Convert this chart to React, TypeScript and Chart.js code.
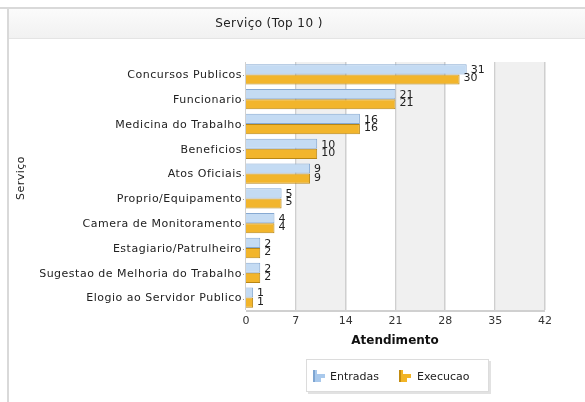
import React, { useEffect, useRef } from "react";
import { Chart, registerables } from "chart.js";

Chart.register(...registerables);

const categories = [
  "Concursos Publicos",
  "Funcionario",
  "Medicina do Trabalho",
  "Beneficios",
  "Atos Oficiais",
  "Proprio/Equipamento",
  "Camera de Monitoramento",
  "Estagiario/Patrulheiro",
  "Sugestao de Melhoria do Trabalho",
  "Elogio ao Servidor Publico",
];
const entradas = [31, 21, 16, 10, 9, 5, 4, 2, 2, 1];
const execucao = [30, 21, 16, 10, 9, 5, 4, 2, 2, 1];
const seriesNames = ["Entradas", "Execucao"];
const xTicks = [0, 7, 14, 21, 28, 35, 42];
const chartTitle = "Serviço (Top 10 )";
const yTitle = "Serviço";
const xTitle = "Atendimento";

const FONT = "'DejaVu Sans', sans-serif";

function drawIcon(ctx: CanvasRenderingContext2D, x: number, y: number, fill: string, stroke: string) {
  const rows = [
    [0, 4],
    [4, 12],
    [8, 8],
  ];
  ctx.save();
  for (const [dy, w] of rows) {
    ctx.fillStyle = fill;
    ctx.fillRect(x, y + dy, w, 4);
  }
  ctx.fillStyle = stroke;
  ctx.fillRect(x, y, 2, 12);
  ctx.restore();
}

function setSpacing(ctx: any, v: string) {
  try {
    ctx.letterSpacing = v;
  } catch (e) {}
}

const decorPlugin = {
  id: "decor",
  beforeDraw(chart: any) {
    const { ctx, chartArea, scales } = chart;
    const x = scales.x;
    const y = scales.y;
    ctx.save();
    ctx.fillStyle = "#ffffff";
    ctx.fillRect(0, 0, chart.width, chart.height);
    // frame
    ctx.fillStyle = "#d9d9d9";
    ctx.fillRect(0, 7, chart.width, 2);
    ctx.fillRect(7, 7, 2, chart.height - 7);
    // title band
    const g = ctx.createLinearGradient(0, 9, 0, 38);
    g.addColorStop(0, "#fbfbfb");
    g.addColorStop(1, "#f1f1f1");
    ctx.fillStyle = g;
    ctx.fillRect(9, 9, chart.width - 9, 29);
    ctx.fillStyle = "#e4e4e4";
    ctx.fillRect(9, 38, chart.width - 9, 1);
    ctx.fillStyle = "#222";
    ctx.font = `12px ${FONT}`;
    setSpacing(ctx, "0.4px");
    ctx.textAlign = "center";
    ctx.textBaseline = "middle";
    ctx.fillText(chartTitle, 269, 24);
    setSpacing(ctx, "0px");
    // alternating bands
    for (let i = 0; i < xTicks.length - 1; i++) {
      if (i % 2 === 1) {
        const a = x.getPixelForValue(xTicks[i]);
        const b = x.getPixelForValue(xTicks[i + 1]);
        ctx.fillStyle = "#f0f0f0";
        ctx.fillRect(a, chartArea.top, b - a, chartArea.bottom - chartArea.top);
      }
    }
    // grid lines (double)
    for (let i = 1; i < xTicks.length; i++) {
      const p = Math.round(x.getPixelForValue(xTicks[i]));
      ctx.fillStyle = "#cfcfcf";
      ctx.fillRect(p - 1, chartArea.top, 1, chartArea.bottom - chartArea.top);
      ctx.fillStyle = "#e6e6e6";
      ctx.fillRect(p, chartArea.top, 1, chartArea.bottom - chartArea.top);
    }
    // axes lines
    ctx.fillStyle = "#d0d0d0";
    ctx.fillRect(chartArea.left, chartArea.bottom, chartArea.right - chartArea.left, 2);
    ctx.fillRect(chartArea.left - 1, chartArea.top, 1, chartArea.bottom - chartArea.top);
    // y category labels
    ctx.fillStyle = "#222";
    ctx.font = `11px ${FONT}`;
    setSpacing(ctx, "0.5px");
    ctx.textAlign = "right";
    ctx.textBaseline = "middle";
    for (let i = 0; i < categories.length; i++) {
      const py = y.getPixelForValue(i);
      ctx.fillText(categories[i], chartArea.left - 4, py + 1);
      ctx.fillStyle = "#999";
      ctx.fillRect(chartArea.left - 3, Math.round(py) + 1, 1, 1);
      ctx.fillStyle = "#222";
    }
    // y title
    ctx.save();
    ctx.translate(21, (chartArea.top + chartArea.bottom) / 2 - 8);
    ctx.rotate(-Math.PI / 2);
    ctx.font = `11px ${FONT}`;
    ctx.textAlign = "center";
    ctx.textBaseline = "middle";
    ctx.fillText(yTitle, 0, 0);
    ctx.restore();
    setSpacing(ctx, "0px");
    // x title
    ctx.fillStyle = "#111";
    ctx.font = `bold 12px ${FONT}`;
    ctx.textAlign = "center";
    ctx.textBaseline = "middle";
    ctx.fillText(xTitle, 395, 341);
    // legend
    const lx = 306, ly = 359, lw = 183, lh = 33;
    ctx.fillStyle = "#e2e2e2";
    ctx.fillRect(lx + 2, ly + 2, lw, lh);
    ctx.fillStyle = "#ffffff";
    ctx.fillRect(lx, ly, lw, lh);
    ctx.strokeStyle = "#dcdcdc";
    ctx.lineWidth = 1;
    ctx.strokeRect(lx + 0.5, ly + 0.5, lw - 1, lh - 1);
    drawIcon(ctx, 313, 370, "#a9c9ec", "#7fa6d2");
    drawIcon(ctx, 399, 370, "#f2b425", "#c28c12");
    ctx.fillStyle = "#222";
    ctx.font = `11px ${FONT}`;
    ctx.textAlign = "left";
    ctx.fillText(seriesNames[0], 330, 377);
    ctx.fillText(seriesNames[1], 417, 377);
    ctx.restore();
  },
  afterDatasetsDraw(chart: any) {
    const { ctx } = chart;
    ctx.save();
    ctx.fillStyle = "#222";
    ctx.font = `11px ${FONT}`;
    ctx.textAlign = "left";
    ctx.textBaseline = "middle";
    const m0 = chart.getDatasetMeta(0);
    const m1 = chart.getDatasetMeta(1);
    for (let i = 0; i < categories.length; i++) {
      const b0 = m0.data[i];
      const b1 = m1.data[i];
      ctx.fillText(String(entradas[i]), b0.x + 4, b0.y + 1);
      ctx.fillText(String(execucao[i]), b1.x + 4, b1.y - 1);
    }
    ctx.restore();
  },
};

export default function App() {
  const ref = useRef<HTMLCanvasElement>(null);
  useEffect(() => {
    const canvas = ref.current!;
    const chart = new Chart(canvas, {
      type: "bar",
      data: {
        labels: categories,
        datasets: [
          {
            label: seriesNames[0],
            data: entradas,
            backgroundColor: "#c4dbf3",
            borderColor: "#86a9d2",
            borderWidth: 1,
            barPercentage: 1.0,
            categoryPercentage: 0.82,
          },
          {
            label: seriesNames[1],
            data: execucao,
            backgroundColor: "#f2b52c",
            borderColor: "#b88614",
            borderWidth: 1,
            barPercentage: 1.0,
            categoryPercentage: 0.82,
          },
        ],
      },
      options: {
        indexAxis: "y",
        responsive: false,
        animation: false,
        events: [],
        layout: { padding: { left: 10, right: 40, top: 62, bottom: 0 } },
        plugins: {
          legend: { display: false },
          title: { display: false },
          tooltip: { enabled: false },
        },
        scales: {
          x: {
            min: 0,
            max: 42,
            afterBuildTicks: (s: any) => {
              s.ticks = xTicks.map((v) => ({ value: v }));
            },
            afterFit: (s: any) => {
              s.height = 92;
            },
            grid: { display: false, drawTicks: false },
            border: { display: false },
            ticks: {
              padding: 5,
              color: "#333",
              font: { family: FONT, size: 11 },
              maxRotation: 0,
            },
          },
          y: {
            afterFit: (s: any) => {
              s.width = 236;
            },
            grid: { display: false, drawTicks: false },
            border: { display: false },
            ticks: { display: false },
          },
        },
      },
      plugins: [decorPlugin],
    });
    return () => chart.destroy();
  }, []);
  return (
    <div style={{ position: "absolute", left: 0, top: 0, width: 585, height: 402 }}>
      <canvas ref={ref} width={585} height={402} style={{ width: 585, height: 402, display: "block" }} />
    </div>
  );
}
